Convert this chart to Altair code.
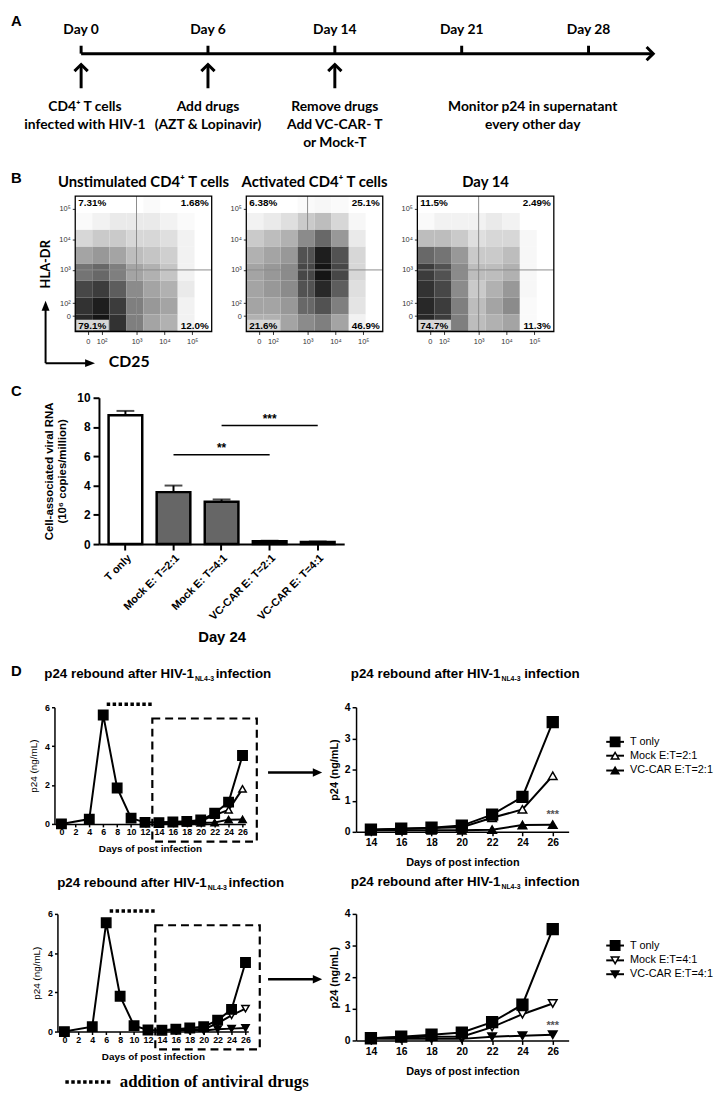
import altair as alt
import pandas as pd

SANS = "Liberation Sans"
CAL = "Lato"
SERIF = "Liberation Serif"

# ---------------- Panel A: timeline ----------------
tl_labels = ["Day 0", "Day 6", "Day 14", "Day 21", "Day 28"]
tl_pos = [0, 1, 2, 3, 4]
tl_arrow_pos = [0, 1, 2]
tl_event_pos = [0.03, 1, 2, 3.56]
tl_event_text = [
    "CD4⁺ T cells\ninfected with HIV-1",
    "Add drugs\n(AZT & Lopinavir)",
    "Remove drugs\nAdd VC-CAR- T\nor Mock-T",
    "Monitor p24  in supernatant\nevery other day",
]
tl_end = [4.51]

# ---------------- Panel B: flow cytometry ----------------
flow_titles = ["Unstimulated CD4⁺ T cells", "Activated CD4⁺ T cells", "Day 14"]
flow_pcts = [
    ["7.31%", "1.68%", "79.1%", "12.0%"],
    ["6.38%", "25.1%", "21.6%", "46.9%"],
    ["11.5%", "2.49%", "74.7%", "11.3%"],
]
flow_x_edges = [0.8, 1.41, 2.03, 2.64, 3.25, 3.86, 4.48, 5.09, 5.7]
flow_y_edges = [1.0, 1.55, 2.1, 2.65, 3.2, 3.75, 4.3, 4.85, 5.4]
flow_x_ticks = [1.25, 1.75, 3, 4, 5]
flow_y_ticks = [1.5, 1.92, 3, 3.98, 4.99]
flow_tick_labels = ["0", "10²", "10³", "10⁴", "10⁵"]
flow_gate = [3, 3]
# density of events, rows from top (high HLA-DR) to bottom, columns left to right
dens_unstim = [
    [0.0, 0.0, 0.0, 0.0, 0.02, 0.0, 0.0, 0.0],
    [0.02, 0.05, 0.08, 0.08, 0.08, 0.05, 0.02, 0.0],
    [0.15, 0.2, 0.2, 0.15, 0.15, 0.12, 0.05, 0.0],
    [0.35, 0.4, 0.35, 0.25, 0.22, 0.18, 0.05, 0.0],
    [0.55, 0.6, 0.5, 0.35, 0.3, 0.22, 0.05, 0.0],
    [0.75, 0.8, 0.65, 0.45, 0.35, 0.3, 0.08, 0.0],
    [0.85, 0.95, 0.8, 0.5, 0.4, 0.35, 0.05, 0.0],
    [0.9, 1.0, 0.85, 0.5, 0.35, 0.3, 0.05, 0.0],
]
dens_act = [
    [0.0, 0.0, 0.0, 0.02, 0.03, 0.02, 0.0, 0.0],
    [0.05, 0.08, 0.12, 0.2, 0.25, 0.15, 0.03, 0.0],
    [0.2, 0.25, 0.3, 0.45, 0.6, 0.4, 0.08, 0.0],
    [0.3, 0.35, 0.4, 0.7, 0.95, 0.7, 0.15, 0.0],
    [0.35, 0.4, 0.45, 0.75, 1.0, 0.75, 0.15, 0.0],
    [0.35, 0.4, 0.45, 0.7, 0.9, 0.65, 0.12, 0.0],
    [0.35, 0.35, 0.4, 0.6, 0.7, 0.5, 0.1, 0.0],
    [0.3, 0.3, 0.35, 0.45, 0.5, 0.35, 0.05, 0.0],
]
dens_d14 = [
    [0.0, 0.0, 0.0, 0.0, 0.0, 0.0, 0.0, 0.0],
    [0.02, 0.05, 0.05, 0.05, 0.08, 0.05, 0.0, 0.0],
    [0.25, 0.25, 0.2, 0.12, 0.15, 0.15, 0.03, 0.0],
    [0.6, 0.55, 0.4, 0.2, 0.2, 0.25, 0.03, 0.0],
    [0.8, 0.7, 0.45, 0.25, 0.25, 0.3, 0.03, 0.0],
    [0.85, 0.75, 0.45, 0.2, 0.3, 0.4, 0.03, 0.0],
    [0.9, 0.8, 0.5, 0.25, 0.35, 0.45, 0.02, 0.0],
    [0.9, 0.8, 0.5, 0.25, 0.3, 0.35, 0.02, 0.0],
]

# ---------------- Panel C: bar chart ----------------
c_groups = ["T only", "Mock E: T=2:1", "Mock E: T=4:1", "VC-CAR E: T=2:1", "VC-CAR E: T=4:1"]
c_means = [8.8, 3.55, 2.9, 0.2, 0.15]
c_sem = [0.3, 0.45, 0.15, 0.03, 0.03]
c_sig_from = ["Mock E: T=2:1", "Mock E: T=4:1"]
c_sig_to = ["VC-CAR E: T=2:1", "VC-CAR E: T=4:1"]
c_sig_mid = ["Mock E: T=4:1", "VC-CAR E: T=2:1"]
c_sig_h = [6.1, 8.1]
c_sig_txt = ["**", "***"]

# ---------------- Panel D: p24 rebound ----------------
d_days = [0, 4, 6, 8, 10, 12, 14, 16, 18, 20, 22, 24, 26]
d_late_days = [14, 16, 18, 20, 22, 24, 26]
d1_tonly = [0, 0.25, 5.6, 1.85, 0.3, 0.08, 0.07, 0.1, 0.13, 0.2, 0.55, 1.12, 3.52]
d1_mock = [0.07, 0.1, 0.12, 0.15, 0.45, 0.72, 1.8]
d1_vc = [0.05, 0.05, 0.05, 0.05, 0.07, 0.22, 0.23]
d2_tonly = [0, 0.25, 5.55, 1.8, 0.3, 0.08, 0.07, 0.12, 0.18, 0.25, 0.58, 1.13, 3.52]
d2_mock = [0.07, 0.1, 0.12, 0.12, 0.42, 0.83, 1.17]
d2_vc = [0.05, 0.05, 0.05, 0.05, 0.12, 0.15, 0.18]
d1_series = ["T only", "Mock E:T=2:1", "VC-CAR E:T=2:1"]
d2_series = ["T only", "Mock E:T=4:1", "VC-CAR E:T=4:1"]
d_drug_period = [6.5, 13.0]
d_drug_level = [6.15]
d_zoom_box = [13.05, 28.05, -0.91, 5.42]
d_sig_day = [26]
d1_sig_y = [0.55]
d2_sig_y = [0.47]
d_title_main = "p24 rebound after HIV-1"
d_title_sub = "NL4-3"
d_title_tail = "infection"

ONE = pd.DataFrame({"k": [0]})


def spacer(w, h):
    return alt.Chart(ONE).mark_point(opacity=0).encode(
        x=alt.value(0), y=alt.value(0)).properties(width=w, height=h)


def txt(text, x, y, size, weight="bold", font=SANS, align="left", baseline="alphabetic", angle=0, color="black"):
    kw = dict(font=font, fontSize=size, fontWeight=weight, align=align, baseline=baseline, color=color)
    if angle:
        kw["angle"] = angle
    return alt.Chart(pd.DataFrame({"t": [text]})).mark_text(**kw).encode(
        text="t:N", x=alt.value(x), y=alt.value(y))


def pt(shape, x, y, size, filled=True, sw=1.0):
    return alt.Chart(ONE).mark_point(shape=shape, size=size, filled=filled, color="black",
                                     opacity=1, strokeWidth=sw).encode(x=alt.value(x), y=alt.value(y))


def hrule(x1, x2, y, sw=2.0, dash=None):
    kw = dict(color="black", strokeWidth=sw)
    if dash:
        kw["strokeDash"] = dash
    return alt.Chart(ONE).mark_rule(**kw).encode(x=alt.value(x1), x2=alt.value(x2), y=alt.value(y))


def vrule(x, y1, y2, sw=2.0):
    return alt.Chart(ONE).mark_rule(color="black", strokeWidth=sw).encode(
        x=alt.value(x), y=alt.value(y1), y2=alt.value(y2))


# ================= Panel A =================
xA = alt.Scale(domain=[-0.553, 4.95], nice=False, zero=False)
dA = pd.DataFrame({"pos": tl_pos, "label": tl_labels})
dArr = pd.DataFrame({"pos": tl_arrow_pos})
dEv = pd.DataFrame({"pos": tl_event_pos, "text": tl_event_text})
dLine = pd.DataFrame({"x0": [tl_pos[0]], "x1": tl_end})


def XA(f):
    return alt.X(f, scale=xA, axis=None)


a_line = alt.Chart(dLine).mark_rule(strokeWidth=3, color="black").encode(x=XA("x0:Q"), x2="x1:Q", y=alt.value(39))
a_head = alt.Chart(dLine).mark_point(shape="M-1,-1L0,0L-1,1", size=180, filled=False, strokeWidth=3,
                                     color="black", opacity=1).encode(x=XA("x1:Q"), y=alt.value(39))
a_ticks = alt.Chart(dA).mark_rule(strokeWidth=3, color="black").encode(x=XA("pos:Q"), y=alt.value(31), y2=alt.value(39))
a_lab = alt.Chart(dA).mark_text(font=CAL, fontSize=14, fontWeight="bold", baseline="middle").encode(
    x=XA("pos:Q"), text="label:N", y=alt.value(15))
a_shaft = alt.Chart(dArr).mark_rule(strokeWidth=3, color="black").encode(x=XA("pos:Q"), y=alt.value(50), y2=alt.value(74))
a_ahead = alt.Chart(dArr).mark_point(shape="M-1,1L0,0L1,1", size=180, filled=False, strokeWidth=3,
                                     color="black", opacity=1).encode(x=XA("pos:Q"), y=alt.value(50))
a_ev = alt.Chart(dEv).mark_text(font=CAL, fontSize=14, fontWeight="bold", baseline="top", lineBreak="\n",
                                lineHeight=18).encode(x=XA("pos:Q"), y=alt.value(86), text="text:N")
a_letter = txt("A", 0, -1, 15, baseline="top")
panelA = alt.layer(a_line, a_head, a_ticks, a_lab, a_shaft, a_ahead, a_ev, a_letter).properties(width=706, height=183)


# ================= Panel B =================
def label_expr(ticks, labels):
    pairs = ",".join("'%s':'%s'" % (repr(t) if not float(t).is_integer() else str(int(t)), l)
                     for t, l in zip(ticks, labels))
    return "{" + pairs + "}[''+datum.value]"


FW, FH = 138, 137


def flow_chart(title, dens, pcts):
    n = len(dens)
    rows = []
    for r, row in enumerate(dens):
        for c, v in enumerate(row):
            rows.append({"x0": flow_x_edges[c], "x1": flow_x_edges[c + 1],
                         "y0": flow_y_edges[n - 1 - r], "y1": flow_y_edges[n - r], "d": v})
    cells = pd.DataFrame(rows)
    xs = alt.Scale(domain=[flow_x_edges[0], flow_x_edges[-1]], nice=False, zero=False)
    ys = alt.Scale(domain=[flow_y_edges[0], flow_y_edges[-1]], nice=False, zero=False)
    ax_common = dict(title=None, domain=False, tickSize=3, labelFontSize=7.5, labelColor="#333",
                     tickColor="#333", grid=False, labelFont=SANS)
    xax = alt.Axis(values=flow_x_ticks, labelExpr=label_expr(flow_x_ticks, flow_tick_labels), labelPadding=3, **ax_common)
    yax = alt.Axis(values=flow_y_ticks, labelExpr=label_expr(flow_y_ticks, flow_tick_labels), labelPadding=2, **ax_common)
    heat = alt.Chart(cells).mark_rect().encode(
        x=alt.X("x0:Q", scale=xs, axis=xax), x2="x1:Q",
        y=alt.Y("y0:Q", scale=ys, axis=yax), y2="y1:Q",
        color=alt.Color("d:Q", scale=alt.Scale(domain=[0, 1], range=["#ffffff", "#151515"]), legend=None),
    )
    gv = alt.Chart(pd.DataFrame({"g": [flow_gate[0]]})).mark_rule(color="#8c8c8c", strokeWidth=1).encode(
        x=alt.X("g:Q", scale=xs, axis=xax))
    gh = alt.Chart(pd.DataFrame({"g": [flow_gate[1]]})).mark_rule(color="#8c8c8c", strokeWidth=1).encode(
        y=alt.Y("g:Q", scale=ys, axis=yax))
    box = alt.Chart(ONE).mark_rect(color="#d6d6d6").encode(
        x=alt.value(1), x2=alt.value(34), y=alt.value(FH - 12), y2=alt.value(FH - 1))
    frame = alt.Chart(ONE).mark_rect(fillOpacity=0, stroke="black", strokeWidth=1.3).encode(
        x=alt.value(0), x2=alt.value(FW), y=alt.value(0), y2=alt.value(FH))
    corners = [(3, 7, "left"), (FW - 3, 7, "right"), (3, FH - 6, "left"), (FW - 3, FH - 6, "right")]
    labs = [txt(p, cx, cy, 10, align=al, baseline="middle") for p, (cx, cy, al) in zip(pcts, corners)]
    return alt.layer(heat, gv, gh, box, frame, *labs).properties(
        width=FW, height=FH,
        title=alt.TitleParams(title, font=CAL, fontSize=15, fontWeight="bold", offset=5, anchor="middle"))


spB = alt.layer(
    txt("B", 0, -13, 15),
    txt("HLA-DR", 35, 69, 13, font=CAL, align="center", baseline="middle", angle=270),
    vrule(35, 112, 169, 2),
    pt("M0,-1L0.8,1L-0.8,1Z", 35, 111, 100),
    hrule(35, 80, 169, 2),
    pt("M1,0L-1,0.8L-1,-0.8Z", 80, 169, 100),
    txt("CD25", 99, 168, 16, font=CAL, baseline="middle"),
).properties(width=30, height=FH)

rowB = alt.hconcat(spB, *[flow_chart(t, d, p) for t, d, p in zip(flow_titles, [dens_unstim, dens_act, dens_d14], flow_pcts)],
                   spacing=35).properties(bounds="flush")

# ================= Panel C =================
dC = pd.DataFrame({"g": c_groups, "m": c_means, "e": [m + s for m, s in zip(c_means, c_sem)]})
c_fill = ["#ffffff", "#666666", "#666666", "#000000", "#000000"]
xCs = alt.Scale(domain=c_groups, paddingInner=0.3, paddingOuter=0.2)
yCs = alt.Scale(domain=[0, 10], nice=False)
xC_axis = alt.Axis(labelAngle=-45, labelFontSize=11, labelFontWeight="bold", tickSize=6, tickWidth=2,
                   domainWidth=2, title="Day 24", titleFontSize=15, titleFontWeight="bold", titlePadding=8,
                   labelPadding=2)
yC_axis = alt.Axis(values=[0, 2, 4, 6, 8, 10], labelFontSize=12, labelFontWeight="bold", tickSize=6, tickWidth=2,
                   domainWidth=2, title=["Cell-associated viral RNA", "(10⁶ copies/million)"], titleFontSize=11.5,
                   titleFontWeight="bold", titlePadding=9, labelPadding=3)
bars = alt.Chart(dC).mark_bar(stroke="black", strokeWidth=2.5).encode(
    x=alt.X("g:N", scale=xCs, axis=xC_axis, sort=c_groups),
    y=alt.Y("m:Q", scale=yCs, axis=yC_axis),
    fill=alt.Fill("g:N", scale=alt.Scale(domain=c_groups, range=c_fill), legend=None),
)
err = alt.Chart(dC).mark_rule(strokeWidth=2, color="black").encode(
    x=alt.X("g:N", scale=xCs, axis=xC_axis, sort=c_groups), y=alt.Y("m:Q", scale=yCs, axis=yC_axis), y2="e:Q")
cap = alt.Chart(dC).mark_tick(color="black", thickness=2, size=18).encode(
    x=alt.X("g:N", scale=xCs, axis=xC_axis, sort=c_groups), y=alt.Y("e:Q", scale=yCs, axis=yC_axis))
dSig = pd.DataFrame({"a": c_sig_from, "b": c_sig_to, "mid": c_sig_mid, "h": c_sig_h, "s": c_sig_txt})
sig = alt.Chart(dSig).mark_rule(color="black", strokeWidth=1.5).encode(
    x=alt.X("a:N", scale=xCs, axis=xC_axis, sort=c_groups), x2="b:N", y=alt.Y("h:Q", scale=yCs, axis=yC_axis))
sigt = alt.Chart(dSig).mark_text(font=SANS, fontSize=12, fontWeight="bold", dy=-7).encode(
    x=alt.X("mid:N", scale=xCs, axis=xC_axis, sort=c_groups), y=alt.Y("h:Q", scale=yCs, axis=yC_axis), text="s:N")
barC = alt.layer(bars, err, cap, sig, sigt).properties(width=248, height=148)
spC = alt.layer(txt("C", 0, -2, 15)).properties(width=40, height=1)
rowC = alt.hconcat(spC, barC, spacing=49).properties(bounds="flush")


# ================= Panel D =================
def series_rows(tonly, mock, vc, late_only=False):
    out = []
    for vals, days in ((tonly, d_days), (mock, d_late_days), (vc, d_late_days)):
        pairs = [(d, v) for d, v in zip(days, vals) if not (late_only and d < d_late_days[0])]
        out.append(pd.DataFrame({"day": [p[0] for p in pairs], "val": [p[1] for p in pairs]}))
    return out


def title_parts(x_main, x_sub, x_tail, yb, size=13.5):
    return [
        txt(d_title_main, x_main, yb, size, align="right"),
        txt(d_title_sub, x_sub, yb + 3, 7),
        txt(d_title_tail, x_tail, yb, size),
    ]


FILLS = ["black", "white", "black"]


def series_marks(dfs, shapes, sizes, xs, ys, xax, yax):
    lines, pts = [], []
    for df in dfs:
        lines.append(alt.Chart(df).mark_line(color="black", strokeWidth=2).encode(
            x=alt.X("day:Q", scale=xs, axis=xax), y=alt.Y("val:Q", scale=ys, axis=yax)))
    for df, shp, f, sz in reversed(list(zip(dfs, shapes, FILLS, sizes))):
        pts.append(alt.Chart(df).mark_point(shape=shp, filled=True, fill=f, stroke="black", strokeWidth=1.5,
                                            size=sz, opacity=1).encode(
            x=alt.X("day:Q", scale=xs, axis=xax), y=alt.Y("val:Q", scale=ys, axis=yax)))
    return lines, pts


def left_chart(tonly, mock, vc, shapes, h, tpos, extra=None):
    dfs = series_rows(tonly, mock, vc)
    xs = alt.Scale(domain=[-1, 26.4], nice=False, zero=False)
    ys = alt.Scale(domain=[0, 6], nice=False)
    xax = alt.Axis(values=list(range(0, 27, 2)), labelFontSize=9, labelFontWeight="bold", tickSize=3,
                   labelPadding=1, domainWidth=1.5, tickWidth=1.5, title="Days of post infection",
                   titleFontSize=10, titleFontWeight="bold", titlePadding=7, grid=False, labelFlush=False)
    yax = alt.Axis(values=[0, 2, 4, 6], labelFontSize=9, labelFontWeight="bold", tickSize=3, labelPadding=2,
                   domainWidth=1.5, tickWidth=1.5, title="p24 (ng/mL)", titleFontSize=10, titleFontWeight="normal",
                   titlePadding=6, grid=False)
    lines, pts = series_marks(dfs, shapes, [90, 55, 55], xs, ys, xax, yax)
    drug = alt.Chart(pd.DataFrame({"a": [d_drug_period[0]], "b": [d_drug_period[1]], "y": d_drug_level})).mark_rule(
        color="black", strokeWidth=3.5, strokeDash=[3.5, 2.5]).encode(
        x=alt.X("a:Q", scale=xs, axis=xax), x2="b:Q", y=alt.Y("y:Q", scale=ys, axis=yax))
    box = alt.Chart(pd.DataFrame({"x0": [d_zoom_box[0]], "x1": [d_zoom_box[1]], "y0": [d_zoom_box[2]],
                                  "y1": [d_zoom_box[3]]})).mark_rect(
        fillOpacity=0, stroke="black", strokeWidth=2.2, strokeDash=[8, 5]).encode(
        x=alt.X("x0:Q", scale=xs, axis=xax), x2="x1:Q", y=alt.Y("y0:Q", scale=ys, axis=yax), y2="y1:Q")
    layers = [box, drug] + lines + pts + title_parts(*tpos)
    if extra:
        layers += extra
    return alt.layer(*layers).properties(width=193, height=h)


def right_chart(tonly, mock, vc, series, shapes, h, tpos, sig_y, leg_y):
    dfs = series_rows(tonly, mock, vc, late_only=True)
    xs = alt.Scale(domain=[13.02, 27.05], nice=False, zero=False)
    ys = alt.Scale(domain=[0, 4], nice=False)
    xax = alt.Axis(values=d_late_days, labelFontSize=10.5, labelFontWeight="bold", tickSize=4, labelPadding=2,
                   domainWidth=1.5, tickWidth=1.5, title="Days of post infection", titleFontSize=11,
                   titleFontWeight="bold", titlePadding=9, grid=False)
    yax = alt.Axis(values=[0, 1, 2, 3, 4], labelFontSize=10.5, labelFontWeight="bold", tickSize=4, labelPadding=2,
                   domainWidth=1.5, tickWidth=1.5, title="p24 (ng/mL)", titleFontSize=11, titleFontWeight="bold",
                   titlePadding=5, grid=False)
    lines, pts = series_marks(dfs, shapes, [120, 75, 75], xs, ys, xax, yax)
    sig = alt.Chart(pd.DataFrame({"d": d_sig_day, "y": sig_y, "s": ["***"]})).mark_text(
        font=SANS, fontSize=11, fontWeight="bold", color="#555").encode(
        x=alt.X("d:Q", scale=xs, axis=xax), y=alt.Y("y:Q", scale=ys, axis=yax), text="s:N")
    leg = []
    for i, (s, shp, f) in enumerate(zip(series, shapes, FILLS)):
        yy = leg_y[i]
        leg.append(hrule(253, 271, yy, 2))
        leg.append(alt.Chart(ONE).mark_point(shape=shp, size=90 if i == 0 else 60, filled=True, fill=f,
                                             stroke="black", strokeWidth=1.5, opacity=1).encode(
            x=alt.value(262), y=alt.value(yy)))
        leg.append(txt(s, 277, yy, 11, weight="normal", baseline="middle"))
    arrow = [hrule(-89, -42, 66, 2.5), pt("M1,0L-1,0.9L-1,-0.9Z", -39, 66, 90)]
    layers = lines + pts + [sig] + leg + arrow + title_parts(*tpos)
    return alt.layer(*layers).properties(width=215, height=h)


shapes1 = ["square", "triangle-up", "triangle-up"]
shapes2 = ["square", "triangle-down", "triangle-down"]

left1 = left_chart(d1_tonly, d1_mock, d1_vc, shapes1, 118, (141, 142, 163, -30))
right1 = right_chart(d1_tonly, d1_mock, d1_vc, d1_series, shapes1, 126, (146, 147, 170, -30), d1_sig_y, [35, 49, 64])
spD = alt.layer(txt("D", 0, -32, 15)).properties(width=44, height=1)
rowD1 = alt.hconcat(spD, left1, spacer(112, 1), right1, spacing=0).properties(bounds="flush")

addition = [hrule(8, 56, 170, 3.5, dash=[3.5, 2.5]),
            txt("addition of antiviral drugs", 63, 170, 17, font=SERIF, baseline="middle")]
left2 = left_chart(d2_tonly, d2_mock, d2_vc, shapes2, 119, (151, 152, 173, -27), extra=addition)
right2 = right_chart(d2_tonly, d2_mock, d2_vc, d2_series, shapes2, 128, (146, 147, 170, -28), d2_sig_y, [32, 47, 61])
rowD2 = alt.hconcat(spacer(47, 1), left2, spacer(109, 1), right2, spacing=0).properties(bounds="flush")

# nested concat rows count as zero height under flush bounds, so gaps include the row heights
chart = alt.vconcat(
    panelA, rowB, spacer(1, FH + 67), rowC, spacer(1, 148 + 165), rowD1, spacer(1, 126 + 83), rowD2, spacing=0
).properties(bounds="flush", padding=0).resolve_scale(
    fill="independent", color="independent"
).configure_view(stroke=None).configure_axis(
    grid=False, domainColor="black", tickColor="black", labelColor="black", titleColor="black",
    labelFont=SANS, titleFont=SANS
)

chart.save("out.html", embed_options={"renderer": "svg", "actions": False})
